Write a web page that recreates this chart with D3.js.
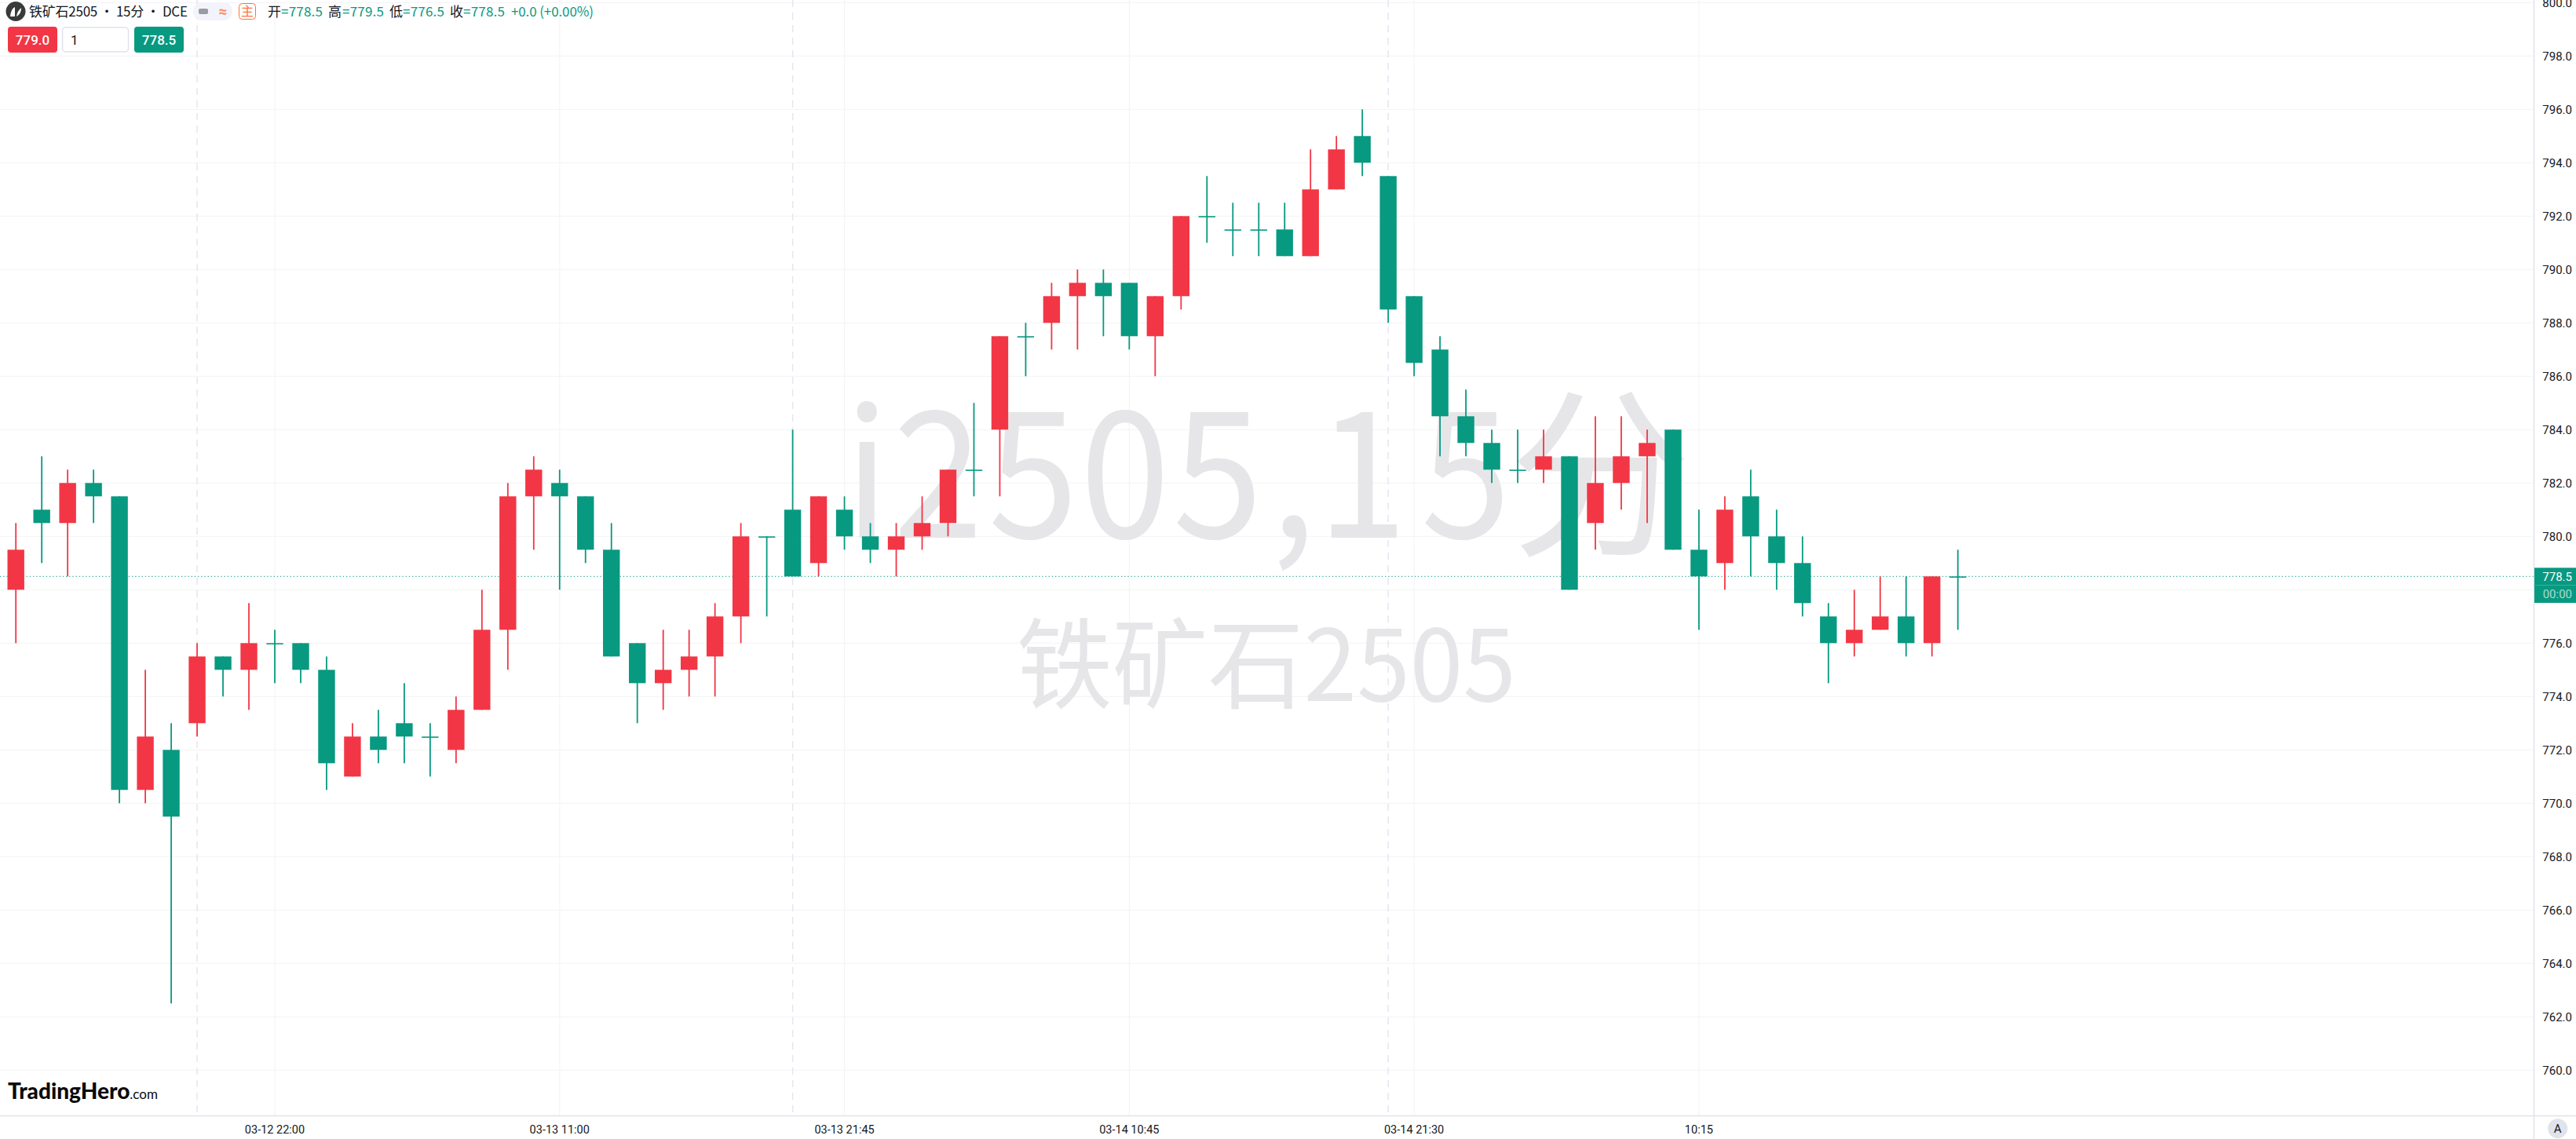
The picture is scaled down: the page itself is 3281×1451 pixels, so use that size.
<!DOCTYPE html>
<html><head><meta charset="utf-8">
<script src="https://cdn.jsdelivr.net/npm/d3@7"></script>
<style>html,body{margin:0;padding:0;background:#fff;overflow:hidden}svg{display:block}</style>
</head><body><div id="chart"></div>
<script>
const opens =[778,781,780.5,782,781.5,770.5,772,773,775.5,775,776,776,775,771,772.5,773,772.5,772,773.5,776.5,781.5,782,781.5,779.5,776,774.5,775,775.5,777,780,781,779,781,780,779.5,780,780.5,782.5,784,787.5,788,789,789.5,789.5,787.5,789,792,791.5,791.5,791.5,790.5,793,795,793.5,789,787,784.5,783.5,782.5,782.5,783,780.5,782,783,784,779.5,779,781.5,780,779,777,776,776.5,777,776,778.5];
const closes=[779.5,780.5,782,781.5,770.5,772.5,769.5,775.5,775,776,776,775,771.5,772.5,772,772.5,772.5,773.5,776.5,781.5,782.5,781.5,779.5,775.5,774.5,775,775.5,777,780,780,778.5,781.5,780,779.5,780,780.5,782.5,782.5,787.5,787.5,789,789.5,789,787.5,789,792,792,791.5,791.5,790.5,793,794.5,794,788.5,786.5,784.5,783.5,782.5,782.5,783,778,782,783,783.5,779.5,778.5,781,780,779,777.5,776,776.5,777,776,778.5,778.5];
const highs =[780.5,783,782.5,782.5,781.5,775,773,776,775.5,777.5,776.5,776,775.5,773,773.5,774.5,773,774,778,782,783,782.5,781.5,780.5,776,776.5,776.5,777.5,780.5,780,784,781.5,781.5,780.5,780.5,781.5,782.5,785,787.5,788,789.5,790,790,789.5,789,792,793.5,792.5,792.5,792.5,794.5,795,796,793.5,789,787.5,785.5,784,784,784,783,784.5,784.5,784,784,781,781.5,782.5,781,780,777.5,778,778.5,778.5,778.5,779.5];
const lows  =[776,779,778.5,780.5,770,770,762.5,772.5,774,773.5,774.5,774.5,770.5,771,771.5,771.5,771,771.5,773.5,775,779.5,778,779,775.5,773,773.5,774,774,776,777,778.5,778.5,779.5,779,778.5,779.5,780,781.5,781.5,786,787,787,787.5,787,786,788.5,791,790.5,790.5,790.5,790.5,793,793.5,788,786,783,783,782,782,782,778,779.5,781,780.5,779.5,776.5,778,778.5,778,777,774.5,775.5,776.5,775.5,775.5,776.5];
const priceTicks=[760,762,764,766,768,770,772,774,776,778,780,782,784,786,788,790,792,794,796,798,800];
const timeIdx=[10,21,32,43,54,65];
const timeLabels=["03-12 22:00","03-13 11:00","03-13 21:45","03-14 10:45","03-14 21:30","10:15"];
const sessionIdx=[7,30,53];
const lastPrice=778.5;
const ohlcLabels=["开","高","低","收"];
const ohlcValues=[778.5,779.5,776.5,778.5];

const W=3281,H=1451,plotR=3227.5,plotB=1421.5;
const UP="#f23645",DOWN="#089981",GRID="#f2f3f6",FONT="Roboto, 'Noto Sans CJK SC', sans-serif",CJK="'Noto Sans CJK SC', sans-serif";
const x=d3.scaleLinear().domain([10,75]).range([350,2493.7]);
const y=d3.scaleLinear().domain([760,800]).range([1363.3,3.3]);
const svg=d3.select("#chart").append("svg").attr("width",W).attr("height",H).style("font-family",FONT);
svg.append("rect").attr("width",W).attr("height",H).attr("fill","#fff");

// grid
svg.append("g").selectAll("line").data(priceTicks).join("line")
 .attr("x1",0).attr("x2",plotR).attr("y1",d=>y(d)).attr("y2",d=>y(d)).attr("stroke",GRID).attr("stroke-width",1);
svg.append("g").selectAll("line").data(timeIdx).join("line")
 .attr("x1",d=>x(d)).attr("x2",d=>x(d)).attr("y1",0).attr("y2",plotB).attr("stroke",GRID).attr("stroke-width",1);
svg.append("g").selectAll("line").data(sessionIdx).join("line")
 .attr("x1",d=>x(d)).attr("x2",d=>x(d)).attr("y1",0).attr("y2",plotB).attr("stroke","#e3e4ee").attr("stroke-width",1.4).attr("stroke-dasharray","9 7");

// watermark: glyph by glyph, the reference's digits are narrower than the installed font
const wm=svg.append("g").attr("fill","#e6e6e9").attr("font-family",CJK).attr("text-anchor","middle");
const wmChars=["i","2","5","0","5",",","1","5"];
const wmCentres=[1104,1195,1316,1433,1551,1647,1735,1867];
wmChars.forEach((ch,i)=>{
  wm.append("text").attr("transform",`translate(${wmCentres[i]},685) scale(0.92,1)`).attr("font-size",224).text(ch);
});
wm.append("text").attr("x",2038).attr("y",690).attr("font-size",232).text("分");
wm.append("text").attr("text-anchor","start").attr("x",1295).attr("y",893).attr("font-size",126).text("铁矿石2505").attr("textLength",636).attr("lengthAdjust","spacingAndGlyphs");

// price line
svg.append("line").attr("x1",0).attr("x2",plotR).attr("y1",y(lastPrice)).attr("y2",y(lastPrice))
 .attr("stroke",DOWN).attr("stroke-width",1).attr("stroke-dasharray","1.3 2.9");

// candles
const idx=d3.range(opens.length);
const col=i=>closes[i]>opens[i]?UP:DOWN;
const c=svg.append("g");
c.selectAll("rect.w").data(idx).join("rect").attr("class","w")
 .attr("x",i=>x(i)-0.9).attr("width",1.8)
 .attr("y",i=>y(highs[i])).attr("height",i=>y(lows[i])-y(highs[i])).attr("fill",col);
c.selectAll("rect.b").data(idx).join("rect").attr("class","b")
 .attr("x",i=>x(i)-10.7).attr("width",21.4)
 .attr("y",i=>y(Math.max(opens[i],closes[i])))
 .attr("height",i=>Math.max(1.6,Math.abs(y(opens[i])-y(closes[i])))).attr("fill",col);

// axes
svg.append("line").attr("x1",plotR).attr("x2",plotR).attr("y1",0).attr("y2",H).attr("stroke","#e0e3eb").attr("stroke-width",1.5);
svg.append("line").attr("x1",0).attr("x2",W).attr("y1",plotB).attr("y2",plotB).attr("stroke","#e0e3eb").attr("stroke-width",1.5);
svg.append("g").selectAll("text").data(priceTicks.filter(d=>d!==778)).join("text")
 .attr("x",3276).attr("y",d=>y(d)).attr("dy","0.36em").attr("text-anchor","end").attr("font-size",15).attr("fill","#131722").text(d=>d.toFixed(1));
svg.append("g").selectAll("text").data(timeIdx).join("text")
 .attr("x",d=>x(d)).attr("y",1439).attr("dy","0.36em").attr("text-anchor","middle").attr("font-size",14.5).attr("fill","#131722")
 .text((d,i)=>timeLabels[i]);

// last price tag
svg.append("rect").attr("x",plotR+0.5).attr("y",723.3).attr("width",W-plotR).attr("height",44.7).attr("fill",DOWN);
svg.append("line").attr("x1",plotR).attr("x2",W).attr("y1",745.5).attr("y2",745.5).attr("stroke","#3aae99").attr("stroke-width",1);
svg.append("text").attr("x",3276).attr("y",734.5).attr("dy","0.36em").attr("text-anchor","end").attr("font-size",15).attr("fill","#fff").text(lastPrice.toFixed(1));
svg.append("text").attr("x",3276).attr("y",756.5).attr("dy","0.36em").attr("text-anchor","end").attr("font-size",15).attr("fill","#a9dcd2").text("00:00");

// header
const hd=svg.append("g");
hd.append("circle").attr("cx",20).attr("cy",14.5).attr("r",12.5).attr("fill","#3a3a3a");
hd.append("path").attr("d","M13 21 Q14 11 19 9 L19 21 Z M21 21 Q22 14 27 10 Q27 18 21 21 Z").attr("fill","#fff");
hd.append("text").attr("x",37).attr("y",15).attr("dy","0.36em").attr("font-size",17).attr("font-family",CJK).attr("fill","#131722").attr("textLength",202).attr("lengthAdjust","spacing").text("铁矿石2505 • 15分 • DCE");
hd.append("rect").attr("x",246).attr("y",3).attr("width",50).attr("height",23).attr("rx",11).attr("fill","#f2f3fb");
hd.append("rect").attr("x",253).attr("y",11).attr("width",12).attr("height",7).attr("rx",2).attr("fill","#9a9ca4");
hd.append("text").attr("x",284).attr("y",14).attr("dy","0.36em").attr("text-anchor","middle").attr("font-size",19).attr("font-weight",700).attr("fill","#ff8a50").text("≈");
hd.append("rect").attr("x",304.5).attr("y",4.5).attr("width",21).attr("height",20).attr("rx",4).attr("fill","#fff").attr("stroke","#ff7043");
hd.append("text").attr("x",315).attr("y",14.5).attr("dy","0.36em").attr("text-anchor","middle").attr("font-size",16).attr("font-family",CJK).attr("fill","#ff7043").text("主");
const labelX=[341,418,496,573], valueX=[358,436,513,590];
ohlcValues.forEach((v,i)=>{
 hd.append("text").attr("x",labelX[i]).attr("y",15).attr("dy","0.36em").attr("font-size",17).attr("font-family",CJK).attr("fill","#131722").text(ohlcLabels[i]);
 hd.append("text").attr("x",valueX[i]).attr("y",15).attr("dy","0.36em").attr("font-size",17).attr("font-family",CJK).attr("fill",DOWN).attr("textLength",53).text("="+v.toFixed(1));
});
hd.append("text").attr("x",651).attr("y",15).attr("dy","0.36em").attr("font-size",17).attr("font-family",CJK).attr("fill",DOWN).attr("textLength",105).text("+0.0 (+0.00%)");
// order buttons
hd.append("rect").attr("x",10).attr("y",34).attr("width",63).attr("height",33).attr("rx",4).attr("fill",UP);
hd.append("text").attr("x",41.5).attr("y",51).attr("dy","0.36em").attr("text-anchor","middle").attr("font-size",17).attr("fill","#fff").attr("font-weight",500).text("779.0");
hd.append("rect").attr("x",79.5).attr("y",35).attr("width",84).attr("height",31).attr("rx",4).attr("fill","#fff").attr("stroke","#dfe2ec").attr("stroke-width",1.5);
hd.append("text").attr("x",90).attr("y",51).attr("dy","0.36em").attr("font-size",17).attr("fill","#131722").text("1");
hd.append("rect").attr("x",171).attr("y",34).attr("width",63).attr("height",33).attr("rx",4).attr("fill",DOWN);
hd.append("text").attr("x",202.5).attr("y",51).attr("dy","0.36em").attr("text-anchor","middle").attr("font-size",17).attr("fill","#fff").attr("font-weight",500).text("778.5");

// logo
const lg=svg.append("text").attr("x",10).attr("y",1400).attr("font-family","Lato, sans-serif").attr("fill","#0a0a0a");
lg.append("tspan").attr("font-size",28).attr("font-weight",900).text("TradingHero");
lg.append("tspan").attr("font-size",17).text(".com");

// auto button
svg.append("circle").attr("cx",3257.7).attr("cy",1437.7).attr("r",12.5).attr("fill","#e0e3eb");
svg.append("text").attr("x",3257.7).attr("y",1437.7).attr("dy","0.36em").attr("text-anchor","middle").attr("font-size",15).attr("fill","#131722").text("A");
</script></body></html>
